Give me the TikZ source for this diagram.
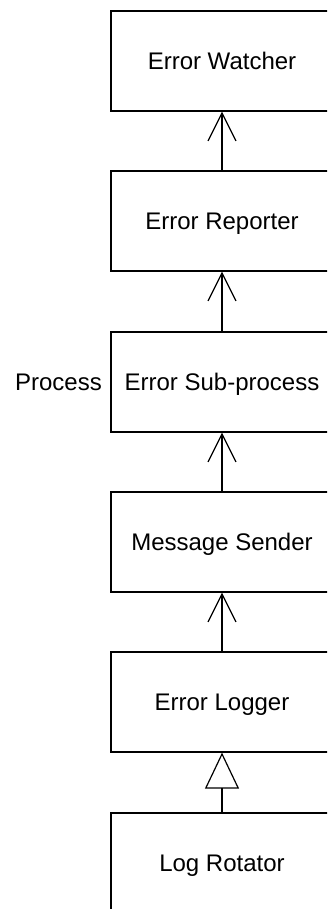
\documentclass[tikz,border=0pt]{standalone}
\usepackage{fontspec}
\setmainfont{Liberation Sans}
\usetikzlibrary{arrows.meta}
\begin{document}
\begin{tikzpicture}[x=1pt,y=-1pt,
  txt/.style={font=\fontsize{24}{28}\selectfont, text height=17pt, text depth=0pt},
  compbox/.style={txt, draw, line width=1.2pt, minimum width=222pt, minimum height=100pt,
    inner sep=0pt},
  depends/.style={line width=1.2pt, -{Straight Barb[length=28pt,width=28pt,line width=1.2pt]}},
  inherits/.style={line width=1.2pt, -{Triangle[open,length=36pt,width=34pt,line width=1.2pt]}},
  lbl/.style={txt, inner sep=0pt}]
  \useasboundingbox (0,0) rectangle (327,909);
  \clip (0,0) rectangle (327,909);
  \node[compbox] (watcher)  at (222,61)  {Error Watcher};
  \node[compbox] (reporter) at (222,221) {Error Reporter};
  \node[compbox] (subproc)  at (222,382) {Error Sub-process};
  \node[compbox] (sender)   at (222,542) {Message Sender};
  \node[compbox] (logger)   at (222,702) {Error Logger};
  \node[compbox] (rotator)  at (222,863) {Log Rotator};
  \node[lbl, anchor=east] (proclbl) at (102,382) {Process};
  \draw[depends] (reporter.north) -- (watcher.south);
  \draw[depends] (subproc.north) -- (reporter.south);
  \draw[depends] (sender.north) -- (subproc.south);
  \draw[depends] (logger.north) -- (sender.south);
  \draw[inherits] (rotator.north) -- (logger.south);
\end{tikzpicture}
\end{document}
